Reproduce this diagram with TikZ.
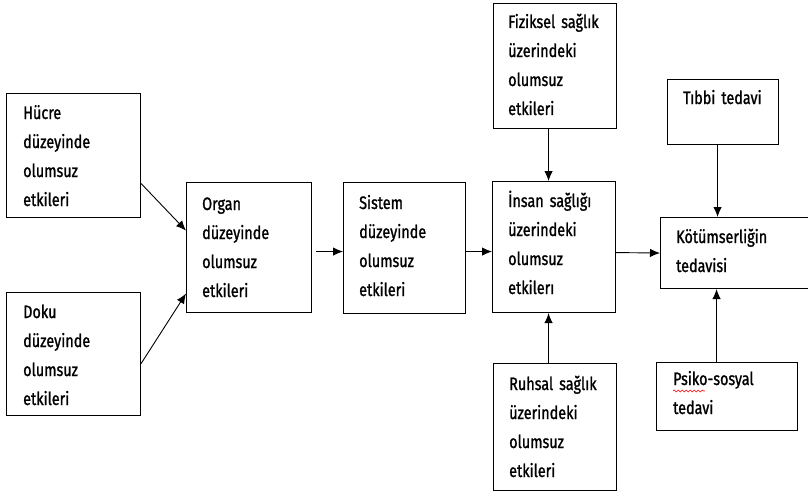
\documentclass[tikz,border=0pt]{standalone}
\usepackage{fontspec}
\setmainfont{Fira Sans}[FakeStretch=0.8,FakeBold=1.2]
\usetikzlibrary{arrows.meta,decorations.pathmorphing}
\begin{document}
\begin{tikzpicture}[x=1pt,y=-1pt,
  box/.style={draw=black,line width=1.1pt,inner sep=0pt,anchor=north west,rectangle},
  lbl/.style={inner sep=0pt,anchor=base west,align=left,text width=125pt,
    font=\fontsize{18}{29}\selectfont},
  arr/.style={draw=black,line width=0.9pt,-{Latex[length=10pt,width=8.5pt]}}]
\useasboundingbox[fill=white] (0,0) rectangle (808,495);
% boxes
\node[box,minimum width=134pt,minimum height=124pt] (hucre) at (6,93) {};
\node[box,minimum width=134pt,minimum height=123pt] (doku) at (6,292) {};
\node[box,minimum width=125pt,minimum height=130pt] (organ) at (186,182) {};
\node[box,minimum width=122pt,minimum height=131pt] (sistem) at (343,182) {};
\node[box,minimum width=123pt,minimum height=131pt] (insan) at (492,181) {};
\node[box,minimum width=123pt,minimum height=125pt] (fizik) at (493,3) {};
\node[box,minimum width=123pt,minimum height=127pt] (ruh) at (493,363) {};
\node[box,minimum width=111pt,minimum height=65pt] (tibbi) at (667,79) {};
\node[box,minimum width=160pt,minimum height=71pt] (kotum) at (660,217) {};
\node[box,minimum width=141pt,minimum height=68pt] (psiko) at (656,362) {};
% labels
\node[lbl] (thucre) at ([shift={(17,26)}]hucre.north west) {Hücre\\düzeyinde\\olumsuz\\etkileri};
\node[lbl] (tdoku) at ([shift={(17,26)}]doku.north west) {Doku\\düzeyinde\\olumsuz\\etkileri};
\node[lbl] (torgan) at ([shift={(16,28)}]organ.north west) {Organ\\düzeyinde\\olumsuz\\etkileri};
\node[lbl] (tsistem) at ([shift={(16,27)}]sistem.north west) {Sistem\\düzeyinde\\olumsuz\\etkileri};
\node[lbl] (tinsan) at ([shift={(16,26)}]insan.north west) {İnsan sağlığı\\üzerindeki\\olumsuz\\etkilerı};
\node[lbl] (tfizik) at ([shift={(15,25)}]fizik.north west) {Fiziksel sağlık\\üzerindeki\\olumsuz\\etkileri};
\node[lbl] (truh) at ([shift={(16,27)}]ruh.north west) {Ruhsal sağlık\\üzerindeki\\olumsuz\\etkileri};
\node[lbl] (ttibbi) at ([shift={(16,25)}]tibbi.north west) {Tıbbi tedavi};
\node[lbl] (tkotum) at ([shift={(16,26)}]kotum.north west) {Kötümserliğin\\tedavisi};
\node[lbl] (tpsiko) at ([shift={(17,23)}]psiko.north west) {Psiko-sosyal\\tedavi};
% spell-check underline
\coordinate (w1) at ([shift={(17,29)}]psiko.north west);
\coordinate (w2) at ([shift={(49,29)}]psiko.north west);
\draw[red,line width=0.6pt,decorate,decoration={snake,amplitude=1pt,segment length=4pt}] (w1) -- (w2);
% connectors (yshift is in canvas direction: positive = up)
\draw[arr] ([yshift=-28pt]hucre.east) -- ([yshift=17pt]organ.west);
\draw[arr] ([yshift=-9.5pt]doku.east) -- ([yshift=-46pt]organ.west);
\draw[arr] ([xshift=4pt,yshift=-4pt]organ.east) -- ([yshift=-3.5pt]sistem.west);
\draw[arr] ([yshift=-3.5pt]sistem.east) -- ([yshift=-4.5pt]insan.west);
\draw[arr] ([yshift=-5.5pt]insan.east) -- ([yshift=0pt]kotum.west);
\draw[arr] ([xshift=-6.5pt]fizik.south) -- ([xshift=-5.5pt]insan.north);
\draw[arr] ([xshift=-6.5pt]ruh.north) -- ([xshift=-5.5pt]insan.south);
\draw[arr] ([xshift=-5.5pt]tibbi.south) -- ([xshift=-23pt]kotum.north);
\draw[arr] ([xshift=-10.5pt]psiko.north) -- ([xshift=-24pt]kotum.south);
\end{tikzpicture}
\end{document}
